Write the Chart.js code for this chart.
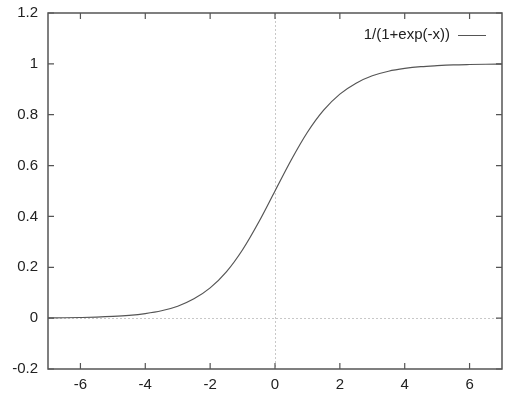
<!DOCTYPE html>
<html>
<head>
<meta charset="utf-8">
<script src="https://cdn.jsdelivr.net/npm/chart.js@4/dist/chart.umd.min.js"></script>
<style>
  html, body { margin: 0; padding: 0; background: #fff; }
  #wrap { width: 518px; height: 394px; }
</style>
</head>
<body>
<div id="wrap"><canvas id="sigmoid-chart"></canvas></div>
<script>
// values
const xValues = [-7, -6.5, -6, -5.5, -5, -4.5, -4, -3.5, -3, -2.5, -2, -1.5, -1, -0.5,
                 0, 0.5, 1, 1.5, 2, 2.5, 3, 3.5, 4, 4.5, 5, 5.5, 6, 6.5, 7];
const yValues = [0.001, 0.0015, 0.0025, 0.004, 0.0067, 0.011, 0.018, 0.029, 0.047, 0.076, 0.119, 0.182, 0.269, 0.378,
                 0.5, 0.622, 0.731, 0.818, 0.881, 0.924, 0.953, 0.971, 0.982, 0.989, 0.993, 0.996, 0.9975, 0.9985, 0.999];
const xTicks = [-6, -4, -2, 0, 2, 4, 6];
const yTicks = [-0.2, 0, 0.2, 0.4, 0.6, 0.8, 1, 1.2];
const seriesLabel = '1/(1+exp(-x))';

const FAMILY = '"Liberation Sans", Arial, sans-serif';
const FONT = '15px ' + FAMILY;

// gnuplot style frame: inward ticks on all sides, dotted zero axes, legend top-right
const gnuplotFrame = {
    id: 'gnuplotFrame',
    beforeDatasetsDraw(chart) {
        const ctx = chart.ctx;
        const xs = chart.scales.x, ys = chart.scales.y;
        const a = chart.chartArea;
        ctx.save();
        ctx.strokeStyle = '#c8c8c8';
        ctx.lineWidth = 1;
        ctx.setLineDash([2, 2]);
        const x0 = Math.round(xs.getPixelForValue(0)) + 0.5;
        const y0 = Math.round(ys.getPixelForValue(0)) + 0.5;
        ctx.beginPath();
        ctx.moveTo(x0, a.top); ctx.lineTo(x0, a.bottom);
        ctx.moveTo(a.left, y0); ctx.lineTo(a.right, y0);
        ctx.stroke();
        ctx.restore();
    },
    afterDraw(chart) {
        const ctx = chart.ctx;
        const xs = chart.scales.x, ys = chart.scales.y;
        const a = chart.chartArea;
        const len = 6;
        ctx.save();
        ctx.strokeStyle = '#555';
        ctx.lineWidth = 1.5;
        ctx.beginPath();
        ctx.rect(a.left, a.top, a.right - a.left, a.bottom - a.top);
        ctx.stroke();
        ctx.lineWidth = 1.2;
        ctx.beginPath();
        xTicks.forEach(v => {
            const px = xs.getPixelForValue(v);
            ctx.moveTo(px, a.bottom); ctx.lineTo(px, a.bottom - len);
            ctx.moveTo(px, a.top); ctx.lineTo(px, a.top + len);
        });
        yTicks.forEach(v => {
            const py = ys.getPixelForValue(v);
            ctx.moveTo(a.left, py); ctx.lineTo(a.left + len, py);
            ctx.moveTo(a.right, py); ctx.lineTo(a.right - len, py);
        });
        ctx.stroke();

        // legend
        const ly = 35;
        ctx.font = FONT;
        ctx.fillStyle = '#222';
        ctx.textAlign = 'right';
        ctx.textBaseline = 'middle';
        ctx.fillText(seriesLabel, 450, ly);
        ctx.strokeStyle = '#555';
        ctx.lineWidth = 1;
        ctx.beginPath();
        ctx.moveTo(458, ly + 0.5); ctx.lineTo(486, ly + 0.5);
        ctx.stroke();
        ctx.restore();
    }
};

const ctx = document.getElementById('sigmoid-chart').getContext('2d');
new Chart(ctx, {
    type: 'line',
    data: {
        datasets: [{
            label: seriesLabel,
            data: xValues.map((x, i) => ({ x: x, y: yValues[i] })),
            borderColor: '#555',
            borderWidth: 1.2,
            pointRadius: 0,
            cubicInterpolationMode: 'monotone',
            fill: false
        }]
    },
    options: {
        responsive: true,
        maintainAspectRatio: false,
        animation: false,
        layout: { padding: { left: 0, right: 16, top: 13, bottom: 0 } },
        scales: {
            x: {
                type: 'linear',
                min: -7,
                max: 7,
                afterFit: s => { s.height = 25; s.paddingLeft = 0; s.paddingRight = 0; },
                afterBuildTicks: s => { s.ticks = xTicks.map(v => ({ value: v })); },
                grid: { display: false, drawTicks: false },
                border: { display: false },
                ticks: { color: '#222', font: { family: FAMILY, size: 15 }, padding: 7, maxRotation: 0 }
            },
            y: {
                min: -0.2,
                max: 1.2,
                afterFit: s => { s.width = 48; s.paddingTop = 0; s.paddingBottom = 0; },
                afterBuildTicks: s => { s.ticks = yTicks.map(v => ({ value: v })); },
                grid: { display: false, drawTicks: false },
                border: { display: false },
                ticks: {
                    color: '#222',
                    font: { family: FAMILY, size: 15 },
                    padding: 10,
                    callback: v => String(Math.round(v * 10) / 10)
                }
            }
        },
        plugins: {
            legend: { display: false },
            tooltip: { enabled: false }
        }
    },
    plugins: [gnuplotFrame]
});
</script>
</body>
</html>
